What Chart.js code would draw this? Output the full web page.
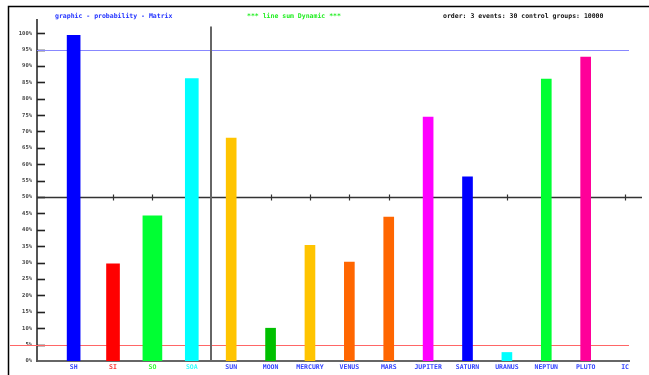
<!DOCTYPE html>
<html lang="en">
<head>
    <meta charset="UTF-8">
    <title>graphic - probability - Matrix</title>
    <script src="https://cdn.jsdelivr.net/npm/chart.js"></script>
    <style>
        body { margin: 0; background: #fff; }
        .wrap { position: relative; width: 649px; height: 375px; }
        .head { position: absolute; top: 12px; font: bold 6.5px "DejaVu Sans Mono", monospace; white-space: pre; }
        #t1 { left: 55px; color: #2233ff; }
        #t2 { left: 247px; color: #22ee22; }
        #t3 { left: 443px; color: #111; }
    </style>
</head>
<body>
    <div class="wrap">
        <canvas id="matrixChart"></canvas>
        <div class="head" id="t1">graphic - probability - Matrix</div>
        <div class="head" id="t2">*** line sum Dynamic ***</div>
        <div class="head" id="t3">order: 3 events: 30 control groups: 10000</div>
    </div>
    <script>
        // data
        const categories = ['SH', 'SI', 'SO', 'SOA', 'SUN', 'MOON', 'MERCURY', 'VENUS', 'MARS', 'JUPITER', 'SATURN', 'URANUS', 'NEPTUN', 'PLUTO', 'IC'];
        const probabilities = [99.3, 29.6, 44.3, 86.1, 68.0, 10.0, 35.3, 30.2, 43.9, 74.4, 56.2, 2.6, 86.0, 92.7, 0];
        const yTicks = [0, 5, 10, 15, 20, 25, 30, 35, 40, 45, 50, 55, 60, 65, 70, 75, 80, 85, 90, 95, 100];
        const upperLimit = 95;
        const middleLine = 50;
        const lowerLimit = 5;

        // styles
        const barColors = ['#0000ff', '#ff0000', '#00ff33', '#00ffff', '#ffc400', '#00c000', '#ffc400', '#ff6600', '#ff6600', '#ff00ff', '#0000ff', '#00ffff', '#00ff33', '#ff0099', 'rgba(0,0,0,0)'];
        const labelColors = ['#3344ff', '#ff3333', '#33ff33', '#33ffff', '#3344ff', '#3344ff', '#3344ff', '#3344ff', '#3344ff', '#3344ff', '#3344ff', '#3344ff', '#3344ff', '#3344ff', '#3344ff'];
        const barWidths = [13, 13, 19, 13, 10, 10, 10, 10, 10, 10, 10, 10, 10, 10, 10];

        function hline(ctx, x1, x2, py, color, w) {
            ctx.strokeStyle = color;
            ctx.lineWidth = w;
            ctx.beginPath();
            ctx.moveTo(x1, py);
            ctx.lineTo(x2, py);
            ctx.stroke();
        }

        const decor = {
            id: 'decor',
            beforeDatasetsDraw(chart) {
                const { ctx, chartArea: a, scales: { x, y } } = chart;
                ctx.save();
                // frame
                ctx.strokeStyle = '#000';
                ctx.lineWidth = 1.5;
                ctx.beginPath();
                ctx.moveTo(8.5, 375);
                ctx.lineTo(8.5, 6.5);
                ctx.lineTo(649, 6.5);
                ctx.stroke();

                // tick marks on the inside of the y axis
                yTicks.forEach(v => {
                    if (v === 0) return;
                    const py = Math.round(y.getPixelForValue(v)) + 0.5;
                    hline(ctx, a.left, a.left + 8, py, '#222', 1.6);
                });

                // limit lines
                hline(ctx, a.left, a.right, Math.round(y.getPixelForValue(upperLimit)) + 0.5, '#8888ff', 1.2);
                hline(ctx, 10, a.right, Math.round(y.getPixelForValue(lowerLimit)) + 0.5, '#ff6666', 1.2);

                // 50% line with category marks
                const mid = Math.round(y.getPixelForValue(middleLine)) + 0.5;
                hline(ctx, a.left, 642, mid, '#333', 1.5);
                ctx.lineWidth = 1.2;
                categories.forEach((c, i) => {
                    const px = Math.round(x.getPixelForValue(i)) + 0.5;
                    ctx.beginPath();
                    ctx.moveTo(px, mid - 3);
                    ctx.lineTo(px, mid + 3);
                    ctx.stroke();
                });

                // divider between SOA and SUN
                const dx = Math.round(x.getPixelForValue(3.5));
                ctx.strokeStyle = '#666';
                ctx.lineWidth = 2;
                ctx.beginPath();
                ctx.moveTo(dx, y.getPixelForValue(102));
                ctx.lineTo(dx, a.bottom);
                ctx.stroke();
                ctx.restore();
            }
        };

        const datasets = categories.map((name, i) => ({
            label: name,
            data: [{ x: i, y: probabilities[i] }],
            backgroundColor: barColors[i],
            barThickness: barWidths[i],
            borderWidth: 0,
            grouped: false
        }));

        new Chart(document.getElementById('matrixChart'), {
            type: 'bar',
            data: { datasets: datasets },
            options: {
                responsive: true,
                maintainAspectRatio: false,
                animation: false,
                layout: { padding: { top: 20, right: 20, bottom: 0, left: 0 } },
                plugins: {
                    legend: { display: false },
                    tooltip: { enabled: false }
                },
                scales: {
                    x: {
                        type: 'linear',
                        offset: false,
                        min: -0.93,
                        max: 14.1,
                        grid: { display: false, drawTicks: false },
                        border: { color: '#666', width: 2 },
                        afterBuildTicks: s => { s.ticks = categories.map((c, i) => ({ value: i })); },
                        afterFit: s => { s.height = 14; },
                        ticks: {
                            autoSkip: false,
                            maxRotation: 0,
                            padding: 2,
                            color: c => labelColors[c.index],
                            font: { family: 'DejaVu Sans Mono', size: 6.5, weight: 'bold' },
                            callback: v => categories[v]
                        }
                    },
                    y: {
                        min: 0,
                        max: 104,
                        grid: { display: false, drawTicks: false },
                        border: { color: '#555', width: 2 },
                        afterBuildTicks: s => { s.ticks = yTicks.map(v => ({ value: v })); },
                        afterFit: s => { s.width = 37; },
                        ticks: {
                            padding: 5,
                            color: '#444',
                            font: { family: 'DejaVu Sans Mono', size: 5.5, weight: 'bold' },
                            callback: v => v + '%'
                        }
                    }
                }
            },
            plugins: [decor]
        });
    </script>
</body>
</html>
